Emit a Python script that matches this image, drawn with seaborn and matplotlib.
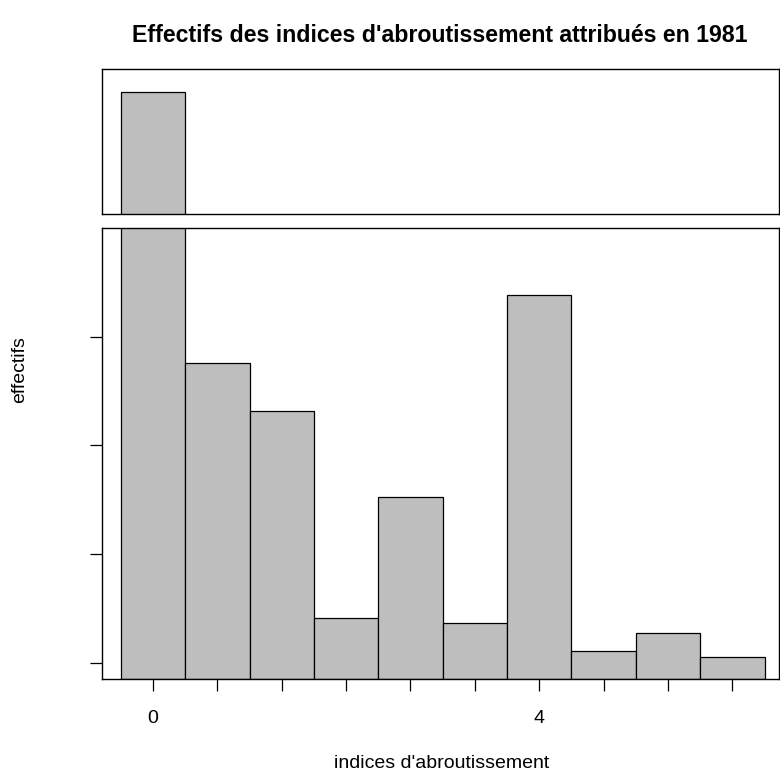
import matplotlib
matplotlib.use("Agg")
import matplotlib.pyplot as plt
import seaborn as sns
import pandas as pd

# ---- data (y-axis has no printed labels) ----
classes = list(range(10))
effectifs = [420, 138, 116, 20.7, 76.4, 18.4, 169.3, 5.5, 13.8, 2.8]
tick_labels = ["0", "", "", "", "", "", "4", "", "", ""]
y_ticks = [0, 50, 100, 150]

title = "Effectifs des indices d'abroutissement attribués en 1981"
xlabel = "indices d'abroutissement"
ylabel = "effectifs"

sns.set_theme(style="white")
plt.rcParams["font.family"] = ["Liberation Sans", "DejaVu Sans"]
plt.rcParams["text.color"] = "black"
plt.rcParams["xtick.color"] = "black"
plt.rcParams["ytick.color"] = "black"

df = pd.DataFrame({"classe": classes, "effectif": effectifs})

fig = plt.figure(figsize=(7.8, 7.75), dpi=100)
ax_lo = fig.add_axes([102/780, 1-679/775, 677/780, 451/775])
ax_hi = fig.add_axes([102/780, 1-214/775, 677/780, 145/775])

bar_color = "#bebebe"
for ax in (ax_lo, ax_hi):
    sns.barplot(data=df, x="classe", y="effectif", order=classes, ax=ax,
                color=bar_color, saturation=1, edgecolor="black",
                linewidth=0.9, width=1.0, errorbar=None)
    ax.set_xlim(-0.792, 9.725)
    for s in ax.spines.values():
        s.set_visible(True)
        s.set_color("black")
        s.set_linewidth(1.0)
    ax.set_xlabel("")
    ax.set_ylabel("")

# lower panel
lo_bottom = -7.4
ax_lo.set_ylim(lo_bottom, 200)
for p in ax_lo.patches:
    h = p.get_height()
    p.set_y(lo_bottom)
    p.set_height(h - lo_bottom)
ax_lo.set_yticks(y_ticks)
ax_lo.set_yticklabels([""] * len(y_ticks))
ax_lo.set_xticks(range(len(classes)))
ax_lo.set_xticklabels(tick_labels, fontsize=14, color="black")
ax_lo.tick_params(axis="both", direction="out", length=8.6, width=0.9,
                  color="black", bottom=True, left=True, pad=14)

# upper panel
big = effectifs[0]
ax_hi.set_ylim(big - 122/2.174, big + 23/2.174)
ax_hi.set_xticks([])
ax_hi.set_yticks([])

fig.text(440/780, 1-35/775, title, ha="center", va="center",
         fontsize=16.7, fontweight="bold", color="black")
fig.text(442/780, 1-764/775, xlabel, ha="center", va="center",
         fontsize=14, color="black")
fig.text(20/780, 1-370/775, ylabel, ha="center", va="center",
         fontsize=14, rotation=90, color="black")

fig.savefig("out.png", dpi=100)
